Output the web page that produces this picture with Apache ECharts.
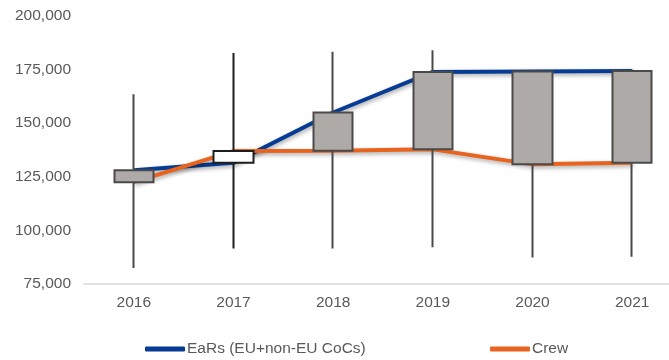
<!DOCTYPE html>
<html>
<head>
<meta charset="utf-8">
<script src="https://cdn.jsdelivr.net/npm/echarts@6/dist/echarts.min.js"></script>
<style>
  html, body { margin: 0; padding: 0; background: #fff; }
  #chart { width: 669px; height: 360px; }
</style>
</head>
<body>
<div id="chart"></div>
<script>
// Years on the category axis
const years = ['2016', '2017', '2018', '2019', '2020', '2021'];
// EaRs (EU + non-EU CoCs) per year
const ears = [128000, 131500, 155000, 173900, 174100, 174300];
// Crew per year
const crew = [122500, 137000, 137100, 137800, 130800, 131500];
// Range extremes per year (whiskers)
const highs = [163500, 182800, 183300, 184000, 174100, 175000];
const lows = [82500, 91600, 91600, 92100, 87400, 87700];
// Value axis ticks
const yMin = 75000, yMax = 200000, yStep = 25000;

const FONT = 'Liberation Sans, Arial, sans-serif';
const TEXT = '#595959';
const BLUE = '#073C94';
const ORANGE = '#E8631E';

// Candles: open = EaRs, close = Crew, then low / high
const candles = years.map((_, i) => [ears[i], crew[i], lows[i], highs[i]]);

const chart = echarts.init(document.getElementById('chart'), null, { renderer: 'canvas' });

const lineShadow = {
  shadowColor: 'rgba(0,0,0,0.35)',
  shadowBlur: 4,
  shadowOffsetX: 1,
  shadowOffsetY: 2
};

chart.setOption({
  animation: false,
  backgroundColor: '#ffffff',
  // plot area runs slightly past the right edge of the canvas
  grid: {
    left: 84, width: 598, top: 16, height: 268,
    containLabel: false,
    outerBoundsMode: 'none'
  },
  legend: [
    {
      data: [{ name: 'EaRs (EU+non-EU CoCs)', icon: 'roundRect' }],
      left: 140, top: 336,
      itemWidth: 40, itemHeight: 5,
      textStyle: { fontFamily: FONT, fontSize: 15.5, color: TEXT, padding: [0, 0, 0, -3] }
    },
    {
      data: [{ name: 'Crew', icon: 'roundRect' }],
      left: 485, top: 336,
      itemWidth: 40, itemHeight: 5,
      textStyle: { fontFamily: FONT, fontSize: 15.5, color: TEXT, padding: [0, 0, 0, -3] }
    }
  ],
  xAxis: {
    type: 'category',
    data: years,
    boundaryGap: true,
    axisLine: { show: true, lineStyle: { color: '#D9D9D9', width: 1.5 } },
    axisTick: { show: false },
    axisLabel: { fontFamily: FONT, fontSize: 15.5, color: TEXT, margin: 11 },
    splitLine: { show: false }
  },
  yAxis: {
    type: 'value',
    min: yMin, max: yMax, interval: yStep,
    axisLine: { show: false },
    axisTick: { show: false },
    splitLine: { show: false },
    axisLabel: {
      fontFamily: FONT, fontSize: 15.5, color: TEXT, margin: 13,
      formatter: v => v.toLocaleString('en-US')
    }
  },
  series: [
    {
      name: 'EaRs (EU+non-EU CoCs)',
      type: 'line',
      data: ears,
      z: 2,
      symbol: 'none',
      lineStyle: Object.assign({ color: BLUE, width: 4 }, lineShadow),
      itemStyle: { color: BLUE }
    },
    {
      name: 'Crew',
      type: 'line',
      data: crew,
      z: 2,
      symbol: 'none',
      lineStyle: Object.assign({ color: ORANGE, width: 4 }, lineShadow),
      itemStyle: { color: ORANGE }
    },
    {
      name: 'range',
      type: 'candlestick',
      data: candles,
      z: 5,
      barWidth: 40,
      itemStyle: {
        color: '#FFFFFF',
        borderColor: '#1E1E1E',
        color0: '#AEAAA8',
        borderColor0: '#4A4A4A',
        borderWidth: 2
      }
    }
  ]
});
</script>
</body>
</html>
